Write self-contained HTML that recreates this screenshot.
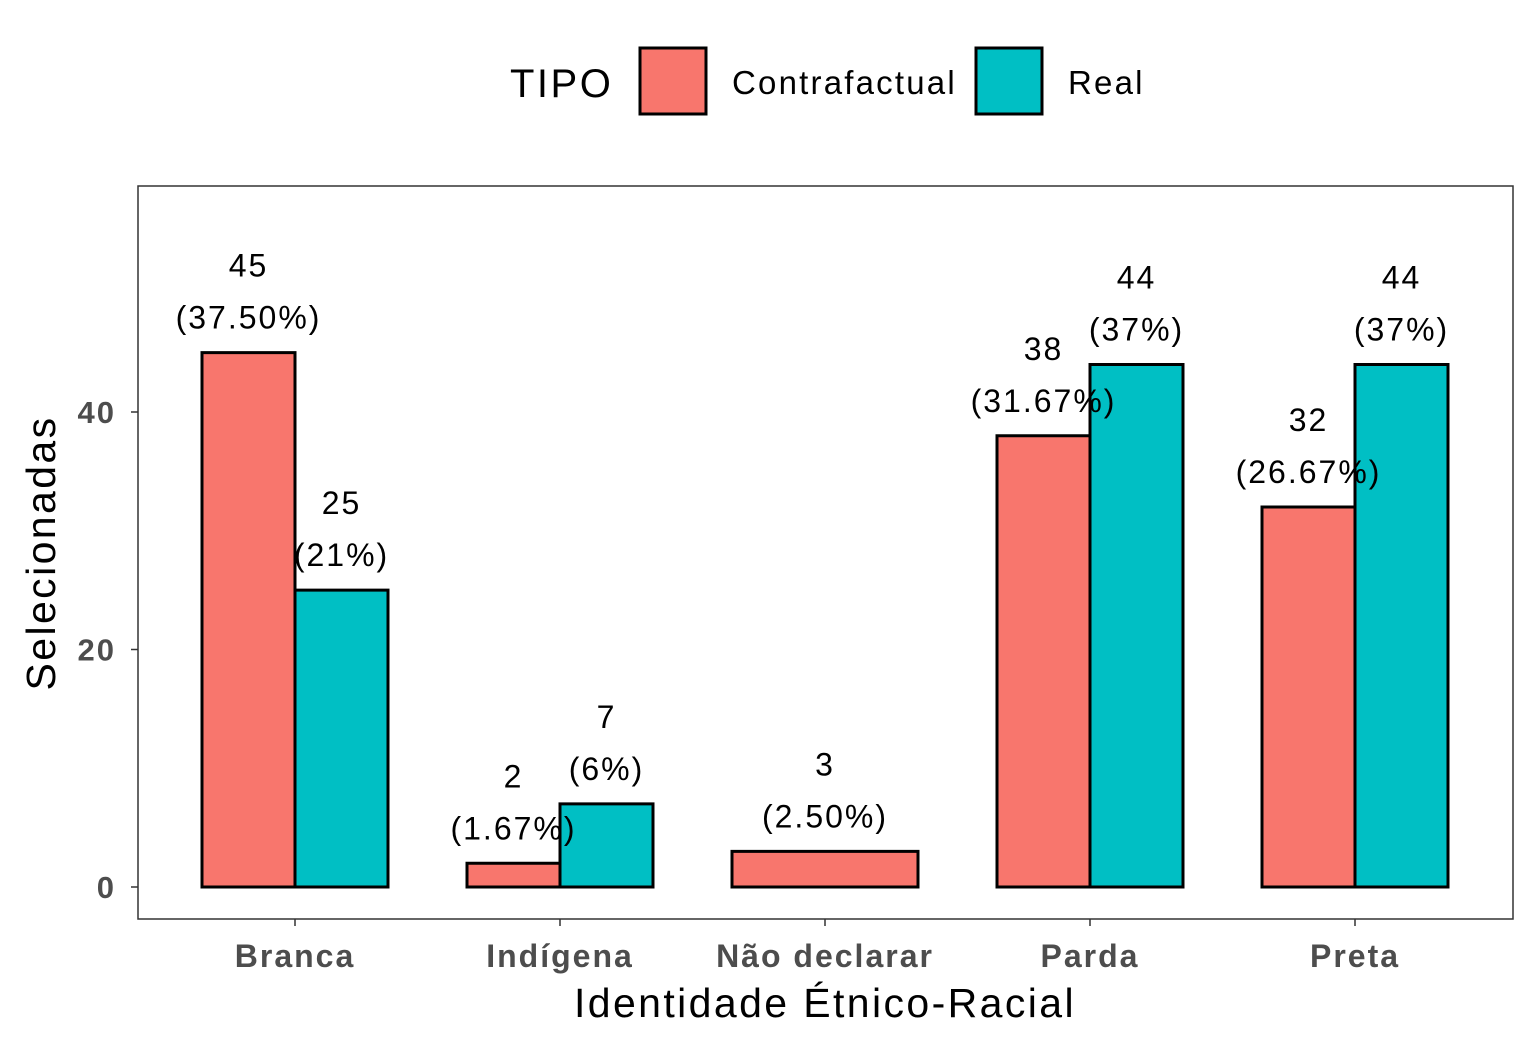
<!DOCTYPE html>
<html><head><meta charset="utf-8"><style>
body{margin:0;background:#fff;}
svg{display:block;font-family:"Liberation Sans",Arial,sans-serif;}
</style></head><body>
<svg id="chart" width="1537" height="1050" xmlns="http://www.w3.org/2000/svg">
<g>
<text x="510" y="97" font-size="40" letter-spacing="2.5" fill="#000">TIPO</text>
<rect x="640" y="48" width="66" height="66" fill="#F8766D" stroke="#000" stroke-width="3"/>
<text x="732" y="94" font-size="33" letter-spacing="2.2" fill="#000">Contrafactual</text>
<rect x="976" y="48" width="66" height="66" fill="#00BFC4" stroke="#000" stroke-width="3"/>
<text x="1068" y="94" font-size="33" letter-spacing="2.2" fill="#000">Real</text>
</g>
<rect x="138" y="186" width="1375" height="733" fill="none" stroke="#333" stroke-width="1.5"/>
<g id="marks"></g>
<g id="labels"></g>
<text transform="translate(55,553) rotate(-90)" text-anchor="middle" font-size="41" letter-spacing="2.4" fill="#000">Selecionadas</text>
<text x="825" y="1017" text-anchor="middle" font-size="41" letter-spacing="2.4" fill="#000">Identidade Étnico-Racial</text>
</svg>
<script>
const categories=["Branca","Indígena","Não declarar","Parda","Preta"];
const contraValues=[45,2,3,38,32];
const contraLabels=["(37.50%)","(1.67%)","(2.50%)","(31.67%)","(26.67%)"];
const realValues=[25,7,null,44,44];
const realLabels=["(21%)","(6%)",null,"(37%)","(37%)"];
const yTicks=[0,20,40];
const NS="http://www.w3.org/2000/svg";
const g=document.getElementById("marks");
const gl=document.getElementById("labels");
function y(v){return 887-v*11.875;}
function x(i){return 295+i*265;}
function mk(tag,attrs,text,parent){const e=document.createElementNS(NS,tag);for(const k in attrs)e.setAttribute(k,attrs[k]);if(text!=null)e.textContent=text;(parent||g).appendChild(e);return e;}
yTicks.forEach(t=>{
 const l=mk("line",{x1:131,x2:138,y1:y(t),y2:y(t),stroke:"#333","stroke-width":1.5});
 
 
 const tx=mk("text",{x:116,y:y(t)+11,"text-anchor":"end","font-size":31,"letter-spacing":2,"font-weight":"bold",fill:"#4d4d4d"},t);
 
 
});
categories.forEach((c,i)=>{
 const l=mk("line",{x1:x(i),x2:x(i),y1:919,y2:926,stroke:"#333","stroke-width":1.5});
 
 
 const tx=mk("text",{x:x(i),y:967,"text-anchor":"middle","font-size":32,"letter-spacing":2,"font-weight":"bold",fill:"#4d4d4d"},c);
 
 
 const bw=93;
 const single=realValues[i]==null;
 const series=[[contraValues[i],contraLabels[i],"#F8766D","contrafactual"],[realValues[i],realLabels[i],"#00BFC4","real"]];
 series.forEach((s,j)=>{
  if(s[0]==null)return;
  let x0,w;
  if(single){x0=x(i)-bw;w=2*bw;}else{x0=x(i)-bw+j*bw;w=bw;}
  const r=mk("rect",{x:x0,y:y(s[0]),width:w,height:887-y(s[0]),fill:s[2],stroke:"#000","stroke-width":3});
  
  
  const cx=x0+w/2;
  const t1=mk("text",{x:cx,y:y(s[0])-76,"text-anchor":"middle","font-size":32,"letter-spacing":2,fill:"#000"},s[0],gl);
  
  
  const t2=mk("text",{x:cx,y:y(s[0])-24,"text-anchor":"middle","font-size":32,"letter-spacing":2,fill:"#000"},s[1],gl);
  
  
 });
});
</script>
</body></html>
